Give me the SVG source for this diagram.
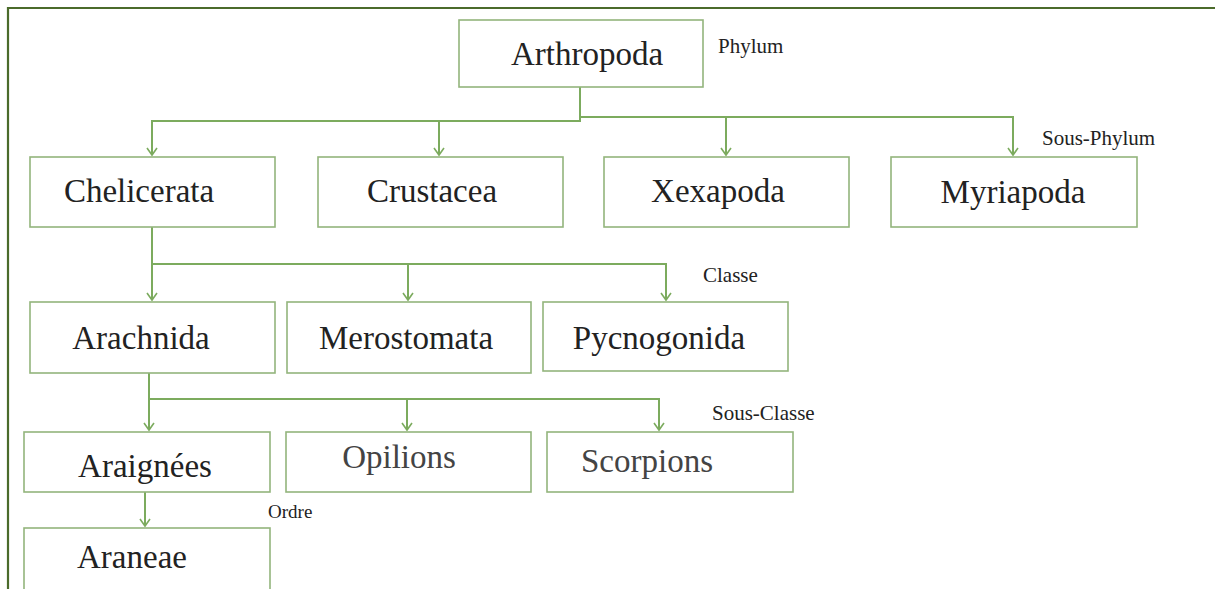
<svg xmlns="http://www.w3.org/2000/svg" width="1215" height="589" viewBox="0 0 1215 589">
<defs>
<style>
.box{fill:#fff;stroke:#93b57c;stroke-width:1.6}
.t{font-family:"Liberation Serif","Times New Roman",serif;font-size:33px;fill:#222;text-anchor:middle}
.tg{fill:#444}
.lab{font-family:"Liberation Serif","Times New Roman",serif;font-size:21px;fill:#222}
.c{fill:none;stroke:#7cab5e;stroke-width:2}
</style>
<marker id="ah" markerWidth="12" markerHeight="12" refX="10" refY="6" orient="auto" markerUnits="userSpaceOnUse" viewBox="0 0 12 12">
<polyline points="3,1 10,6 3,11" fill="none" stroke="#7cab5e" stroke-width="1.6"/>
</marker>
</defs>
<rect width="1215" height="589" fill="#fff"/>
<g id="frame" fill="none" stroke="#4b6b2b" stroke-width="2.2">
<path d="M1215,8 H8 V589"/>
</g>
<g id="connectors">
<path class="c" d="M580,87 V121 H152 V155" marker-end="url(#ah)"/>
<path class="c" d="M580,117 H1013 V155" marker-end="url(#ah)"/>
<path class="c" d="M439,121 V155" marker-end="url(#ah)"/>
<path class="c" d="M726,117 V155" marker-end="url(#ah)"/>
<path class="c" d="M152,227 V264 H666 V300" marker-end="url(#ah)"/>
<path class="c" d="M152,264 V300" marker-end="url(#ah)"/>
<path class="c" d="M408,264 V300" marker-end="url(#ah)"/>
<path class="c" d="M149,373 V399 H659 V430" marker-end="url(#ah)"/>
<path class="c" d="M149,399 V430" marker-end="url(#ah)"/>
<path class="c" d="M407,399 V430" marker-end="url(#ah)"/>
<path class="c" d="M145,492 V526" marker-end="url(#ah)"/>
</g>
<g id="arthropoda"><rect class="box" x="459" y="20" width="244" height="67"/><text class="t" x="587" y="65">Arthropoda</text></g>
<g id="chelicerata"><rect class="box" x="30" y="157" width="245" height="70"/><text class="t" x="139" y="202">Chelicerata</text></g>
<g id="crustacea"><rect class="box" x="318" y="157" width="245" height="70"/><text class="t" x="432" y="202">Crustacea</text></g>
<g id="xexapoda"><rect class="box" x="604" y="157" width="245" height="70"/><text class="t" x="718" y="202">Xexapoda</text></g>
<g id="myriapoda"><rect class="box" x="891" y="157" width="246" height="70"/><text class="t" x="1013" y="203">Myriapoda</text></g>
<g id="arachnida"><rect class="box" x="30" y="302" width="245" height="71"/><text class="t" x="141" y="349">Arachnida</text></g>
<g id="merostomata"><rect class="box" x="287" y="302" width="244" height="71"/><text class="t" x="406" y="349">Merostomata</text></g>
<g id="pycnogonida"><rect class="box" x="543" y="302" width="245" height="69"/><text class="t" x="659" y="349">Pycnogonida</text></g>
<g id="araignees"><rect class="box" x="24" y="432" width="246" height="60"/><text class="t" x="145" y="477">Araignées</text></g>
<g id="opilions"><rect class="box" x="286" y="432" width="245" height="60"/><text class="t tg" x="399" y="468">Opilions</text></g>
<g id="scorpions"><rect class="box" x="547" y="432" width="246" height="60"/><text class="t tg" x="647" y="472">Scorpions</text></g>
<g id="araneae"><rect class="box" x="24" y="528" width="246" height="62"/><text class="t" x="132" y="568">Araneae</text></g>
<g id="labels">
<text class="lab" x="718" y="53">Phylum</text>
<text class="lab" x="1042" y="145">Sous-Phylum</text>
<text class="lab" x="703" y="282">Classe</text>
<text class="lab" x="712" y="420">Sous-Classe</text>
<text class="lab" x="268" y="518" style="font-size:19px">Ordre</text>
</g>
</svg>
